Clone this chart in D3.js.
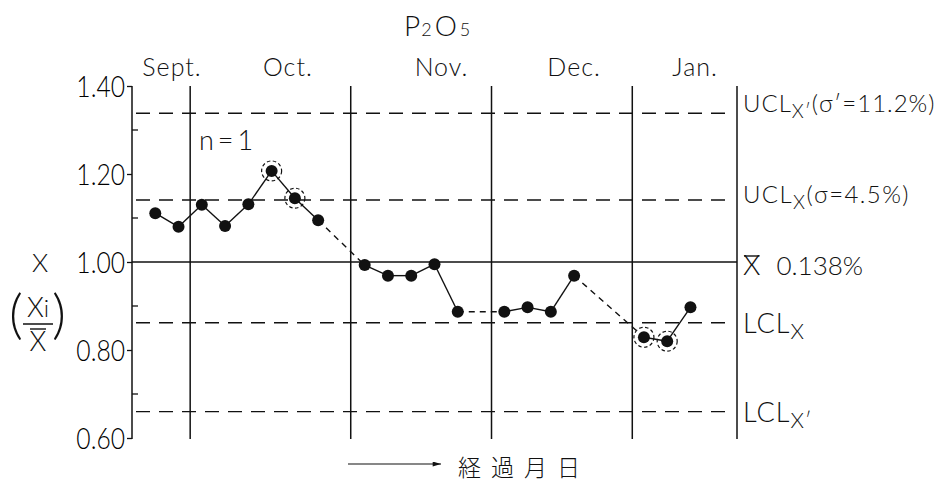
<!DOCTYPE html>
<html>
<head>
<meta charset="utf-8">
<script src="https://cdn.jsdelivr.net/npm/d3@7"></script>
<style>
  body { margin: 0; background: #fff; }
  svg { display: block; }
</style>
</head>
<body>
<svg id="chart" width="944" height="482"></svg>
<script>
// ---- data -------------------------------------------------------------
// sample number along the time axis (gaps = days without a sample)
const sampleIndex = [0, 1, 2, 3, 4, 5, 6, 7, 9, 10, 11, 12, 13, 15, 16, 17, 18, 21, 22, 23];
// ratio of each P2O5 result to the overall mean, Xi / X̄
const ratio = [1.111, 1.080, 1.130, 1.082, 1.131, 1.207, 1.145, 1.095,
               0.993, 0.969, 0.969, 0.995, 0.887,
               0.887, 0.897, 0.887, 0.969,
               0.829, 0.820, 0.897];
// samples outside the control limits (circled)
const flagged = [5, 6, 21, 22];

const months = ["Sept.", "Oct.", "Nov.", "Dec.", "Jan."];
const monthLabelAt = [0.72, 5.7, 12.3, 18.0, 23.2];
const monthBoundaries = [1.5, 8.4, 14.45, 20.5];
const sampleDomain = [-1, 25];

const meanRatio = 1.00;
const limitNames = ["UCLx'", "UCLx", "LCLx", "LCLx'"];
const limitValues = [1.338, 1.141, 0.862, 0.660];

const yTicks = [1.40, 1.20, 1.00, 0.80, 0.60];
const yMinorTicks = [1.30, 1.10, 0.90, 0.70];
const yDomain = [0.60, 1.40];

// ---- setup -------------------------------------------------------------
const FONT = "Lato, 'DejaVu Sans', sans-serif";
const W = 300;
const svg = d3.select("#chart");

const x = d3.scaleLinear().domain(sampleDomain).range([132, 737]);
const y = d3.scaleLinear().domain(yDomain).range([438, 86]);

const ink = "#111";

function txt(sel, size) {
  return sel.attr("font-family", FONT).attr("font-weight", W)
    .attr("font-size", size).attr("fill", ink);
}

// ---- frame: left axis, month separators, right border ------------------
const yAxis = d3.axisLeft(y).tickValues(yTicks).tickFormat(d3.format(".2f"))
  .tickSize(5).tickPadding(3);
const gAxis = svg.append("g").attr("transform", `translate(${x(sampleDomain[0])},0)`).call(yAxis);
gAxis.select(".domain").remove();
gAxis.selectAll(".tick line").attr("stroke", ink).attr("stroke-width", 1.3).attr("x2", -5);
txt(gAxis.selectAll(".tick text"), 29).attr("fill", "#000").attr("dy", "0.36em")
  .attr("transform", "scale(0.85,1)").attr("x", -7 / 0.85);

svg.append("g").selectAll("line").data(yMinorTicks).join("line")
  .attr("x1", x(sampleDomain[0])).attr("x2", x(sampleDomain[0]) + 6)
  .attr("y1", d => y(d)).attr("y2", d => y(d))
  .attr("stroke", ink).attr("stroke-width", 1.3);

const verticals = [sampleDomain[0], ...monthBoundaries, sampleDomain[1]];
svg.append("g").selectAll("line").data(verticals).join("line")
  .attr("x1", d => x(d)).attr("x2", d => x(d))
  .attr("y1", y(yDomain[1])).attr("y2", y(yDomain[0]) + 1)
  .attr("stroke", ink).attr("stroke-width", 1.5);

// ---- mean and control limit lines -------------------------------------
svg.append("line")
  .attr("x1", x(sampleDomain[0])).attr("x2", x(sampleDomain[1]))
  .attr("y1", y(meanRatio)).attr("y2", y(meanRatio))
  .attr("stroke", ink).attr("stroke-width", 1.6);

svg.append("g").selectAll("line").data(limitValues).join("line")
  .attr("x1", x(sampleDomain[0]) + 4).attr("x2", x(sampleDomain[1]) - 6)
  .attr("y1", d => y(d)).attr("y2", d => y(d))
  .attr("stroke", ink).attr("stroke-width", 1.4)
  .attr("stroke-dasharray", "14,9");

// ---- month labels and title -------------------------------------------
txt(svg.append("g").selectAll("text").data(months).join("text"), 25)
  .attr("x", (d, i) => x(monthLabelAt[i])).attr("y", 76)
  .attr("text-anchor", "middle").attr("letter-spacing", 1)
  .text(d => d);

const title = txt(svg.append("text"), 28).attr("x", 404).attr("y", 36);
title.append("tspan").text("P");
title.append("tspan").attr("font-size", 18).attr("dx", 1).text("2");
title.append("tspan").attr("dx", 3).text("O");
title.append("tspan").attr("font-size", 18).attr("dx", 3).text("5");

txt(svg.append("text"), 27).attr("x", 199).attr("y", 150)
  .attr("letter-spacing", 4).text("n=1");

// ---- data points and connecting lines ---------------------------------
const pts = sampleIndex.map((s, i) => ({ s, v: ratio[i] }));
const segs = d3.pairs(pts).map(([a, b]) => ({ a, b, gap: b.s - a.s > 1 }));

svg.append("g").selectAll("line").data(segs).join("line")
  .attr("x1", d => x(d.a.s)).attr("y1", d => y(d.a.v))
  .attr("x2", d => x(d.b.s)).attr("y2", d => y(d.b.v))
  .attr("stroke", ink).attr("stroke-width", 1.4)
  .attr("stroke-dasharray", d => d.gap ? "6,5" : null);

svg.append("g").selectAll("circle").data(pts.filter(p => flagged.includes(p.s))).join("circle")
  .attr("cx", d => x(d.s)).attr("cy", d => y(d.v)).attr("r", 10)
  .attr("fill", "none").attr("stroke", ink).attr("stroke-width", 1.2)
  .attr("stroke-dasharray", "3.5,2.5");

svg.append("g").selectAll("circle").data(pts).join("circle")
  .attr("cx", d => x(d.s)).attr("cy", d => y(d.v)).attr("r", 6)
  .attr("fill", ink);

// ---- right-hand limit labels ------------------------------------------
const lx = x(sampleDomain[1]) + 6;

function limitLabel(v, dy, size, spacing, main, sub, rest) {
  const t = txt(svg.append("text"), size).attr("x", lx).attr("y", y(v) + dy)
    .attr("letter-spacing", spacing);
  t.append("tspan").text(main);
  t.append("tspan").attr("font-size", size * 0.8).attr("dy", size * 0.25).text(sub);
  if (rest) t.append("tspan").attr("dy", -size * 0.25).text(rest);
  return t;
}
limitLabel(limitValues[0], -1, 24, 1.0, "UCL", "X′", "(σ′=11.2%)");
limitLabel(limitValues[1], 3, 24, 1.4, "UCL", "X", "(σ=4.5%)");
limitLabel(limitValues[2], 10, 27, 1, "LCL", "X", null);
limitLabel(limitValues[3], 10, 27, 1, "LCL", "X′", null);

// mean label: X with an overbar
const meanX = txt(svg.append("text"), 28).attr("x", lx).attr("y", y(meanRatio) + 13).text("X");
const mb = meanX.node().getBBox();
svg.append("line").attr("x1", mb.x + 1).attr("x2", mb.x + mb.width - 1)
  .attr("y1", y(meanRatio) - 6).attr("y2", y(meanRatio) - 6)
  .attr("stroke", ink).attr("stroke-width", 1.4);
txt(svg.append("text"), 26).attr("x", mb.x + mb.width + 16).attr("y", y(meanRatio) + 13)
  .text("0.138%");

// ---- y-axis title: X (Xi / X̄) ----------------------------------------
txt(svg.append("text"), 26).attr("x", 40).attr("y", 272).attr("text-anchor", "middle").text("X");

const num = txt(svg.append("text"), 27).attr("x", 38).attr("y", 317).attr("text-anchor", "middle");
num.append("tspan").text("X");
num.append("tspan").attr("font-size", 24).text("i");

svg.append("line").attr("x1", 23).attr("x2", 53).attr("y1", 324).attr("y2", 324)
  .attr("stroke", ink).attr("stroke-width", 1.5);
svg.append("line").attr("x1", 30).attr("x2", 46).attr("y1", 329).attr("y2", 329)
  .attr("stroke", ink).attr("stroke-width", 1.4);
txt(svg.append("text"), 27).attr("x", 38).attr("y", 351).attr("text-anchor", "middle").text("X");

txt(svg.append("text"), 54).attr("x", 9).attr("y", 333).text("(");
txt(svg.append("text"), 54).attr("x", 52).attr("y", 333).text(")");

// ---- time axis caption --------------------------------------------------
svg.append("defs").append("marker").attr("id", "arrow")
  .attr("viewBox", "0 0 10 6").attr("refX", 10).attr("refY", 3)
  .attr("markerWidth", 9).attr("markerHeight", 5).attr("markerUnits", "userSpaceOnUse")
  .attr("orient", "auto")
  .append("path").attr("d", "M0,0 L10,3 L0,6 Z").attr("fill", ink);
svg.append("line").attr("x1", 348).attr("x2", 441).attr("y1", 464).attr("y2", 464)
  .attr("stroke", ink).attr("stroke-width", 1.2).attr("marker-end", "url(#arrow)");
svg.append("text").attr("x", 458).attr("y", 476)
  .attr("font-family", "'Noto Sans CJK JP', sans-serif").attr("font-weight", 300)
  .attr("font-size", 23).attr("letter-spacing", 10).attr("fill", ink).text("経過月日");
</script>
</body>
</html>
